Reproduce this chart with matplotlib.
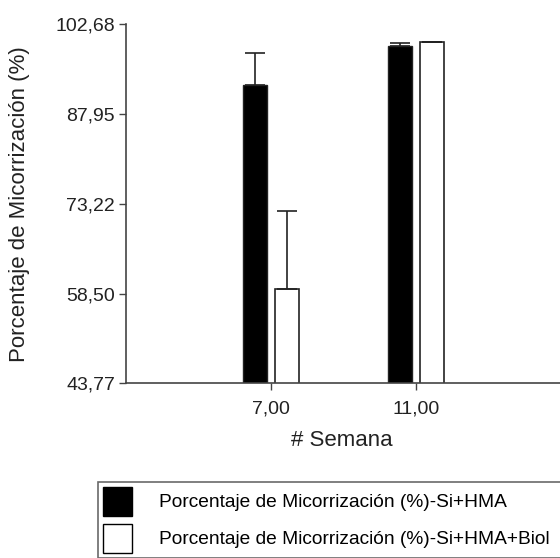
import matplotlib.pyplot as plt
from matplotlib.patches import Patch

plt.rcParams['font.family'] = ['Liberation Sans', 'DejaVu Sans']

# weeks and mycorrhization percentages
semanas = [7, 11]
si_hma = [92.75, 99.05]
si_hma_err = [5.2, 0.6]
si_hma_biol = [59.2, 99.85]
si_hma_biol_err = [12.8, 0.0]

y_ticks = [43.77, 58.50, 73.22, 87.95, 102.68]
labels = ['Porcentaje de Micorrización (%)-Si+HMA',
          'Porcentaje de Micorrización (%)-Si+HMA+Biol']

fig = plt.figure(figsize=(5.6, 5.58), dpi=100)
ax = fig.add_axes([0.225, 0.313, 0.78, 0.6434])

width = 0.66
offset = 0.45
x1 = [s - offset for s in semanas]
x2 = [s + offset for s in semanas]

ax.bar(x1, si_hma, width, bottom=0, color='black', edgecolor='#222222', linewidth=1)
ax.bar(x2, si_hma_biol, width, color='white', edgecolor='#222222', linewidth=1.2)

# one-sided (upper) error bars
ax.errorbar(x1, si_hma, yerr=[[0] * len(si_hma), si_hma_err], fmt='none',
            ecolor='#222222', elinewidth=1.2, capsize=7.5, capthick=1.2)
ax.errorbar(x2, si_hma_biol, yerr=[[0] * len(si_hma_biol), si_hma_biol_err], fmt='none',
            ecolor='#222222', elinewidth=1.2, capsize=7.5, capthick=1.2)

ax.set_xlim(3, 15.05)
ax.set_ylim(y_ticks[0], y_ticks[-1])
ax.set_yticks(y_ticks)
ax.set_yticklabels([f'{v:.2f}'.replace('.', ',') for v in y_ticks])
ax.set_xticks(semanas)
ax.set_xticklabels([f'{s:.2f}'.replace('.', ',') for s in semanas])

for side in ['top', 'right']:
    ax.spines[side].set_visible(False)
for side in ['left', 'bottom']:
    ax.spines[side].set_color('#444444')
    ax.spines[side].set_linewidth(1.2)
ax.tick_params(axis='both', direction='out', length=5, width=1, color='#444444',
               labelsize=14, labelcolor='#222222')
ax.tick_params(axis='x', pad=7)
ax.tick_params(axis='y', pad=3)

ax.set_ylabel('Porcentaje de Micorrización (%)', fontsize=16, color='#222222')
ax.set_xlabel('# Semana', fontsize=16, color='#222222')
ax.yaxis.set_label_coords(-0.2427, 0.5)
ax.xaxis.set_label_coords(0.495, -0.158)
ax.xaxis.label.set_va('center')
ax.yaxis.label.set_va('center')

# legend box runs off the right edge of the figure
handles = [Patch(facecolor='black', edgecolor='black'),
           Patch(facecolor='white', edgecolor='black')]
leg = fig.legend(handles, labels, loc='upper left', mode='expand',
                 bbox_to_anchor=(98 / 560, 1 - 482 / 558, 475 / 560, 0),
                 fontsize=13.75, frameon=True, fancybox=False,
                 handlelength=1.53, handleheight=1.98, handletextpad=1.4,
                 labelspacing=0.4, borderpad=0.25, borderaxespad=0)
leg.get_frame().set_edgecolor('#444444')
leg.get_frame().set_linewidth(1.2)

fig.savefig('out.png', dpi=100)
